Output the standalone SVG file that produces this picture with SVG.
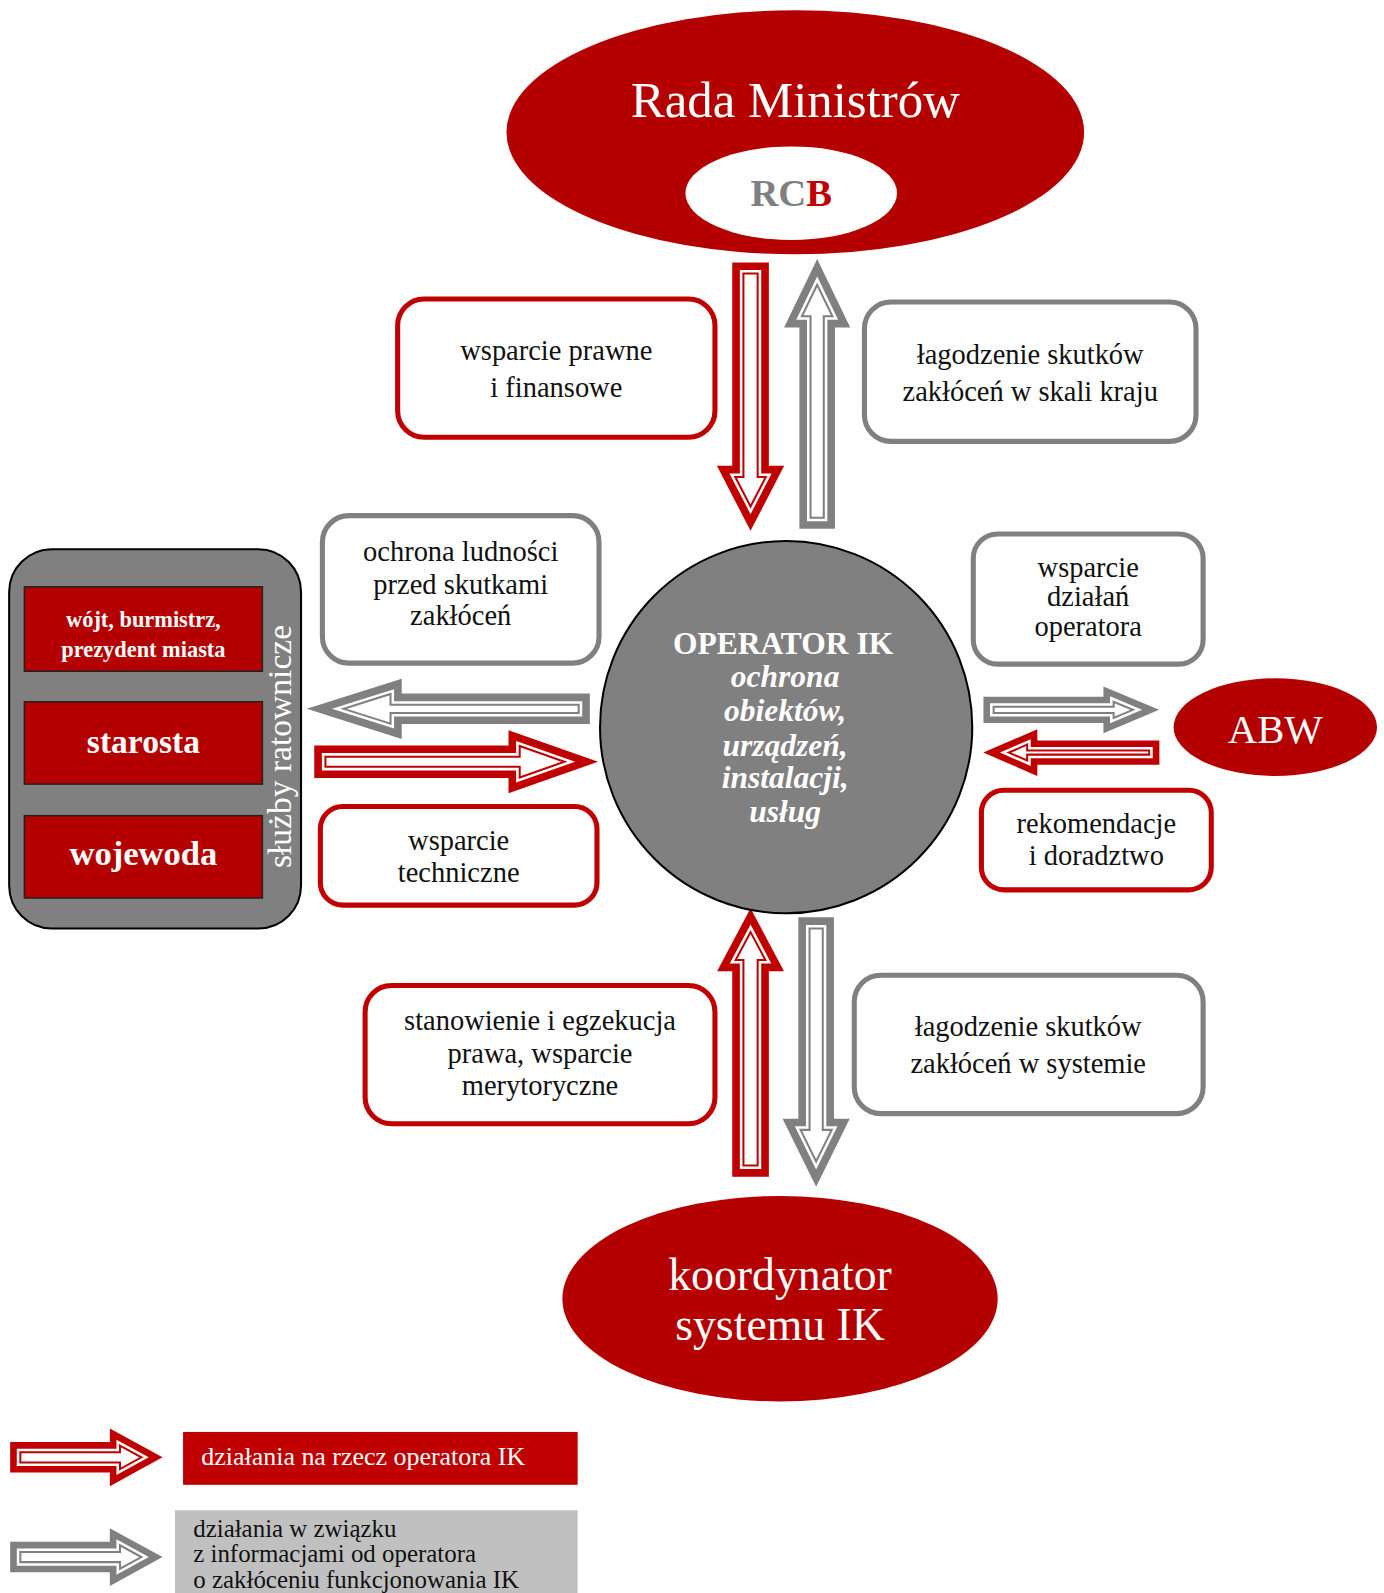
<svg xmlns="http://www.w3.org/2000/svg" xmlns:xlink="http://www.w3.org/1999/xlink" width="1384" height="1593" viewBox="0 0 1384 1593">
<style>
text{font-family:"Liberation Serif","DejaVu Serif",serif}
.ell{fill:#b50000}
.boxr{fill:#fff;stroke:#c00000;stroke-width:5}
.boxg{fill:#fff;stroke:#808080;stroke-width:5}
.bt{font-size:28px;fill:#111;text-anchor:middle}
.wt{fill:#fff;text-anchor:middle}
.lbox{fill:#b50000;stroke:#222;stroke-width:1.5}
.o11r{fill:none;stroke:#c00000;stroke-width:22;stroke-miterlimit:10}
.o11g{fill:none;stroke:#808080;stroke-width:22;stroke-miterlimit:10}
.o10r{fill:none;stroke:#c00000;stroke-width:20;stroke-miterlimit:10}
.o10g{fill:none;stroke:#808080;stroke-width:20;stroke-miterlimit:10}
.gap{fill:none;stroke:#fff;stroke-width:7;stroke-miterlimit:10}
.inr{fill:#fff;stroke:#c00000;stroke-width:2}
.ing{fill:#fff;stroke:#808080;stroke-width:2}
</style>
<defs>
<path id="a1" d="M731,269 L745,269 L745,469 L753,469 L738,498 L723,469 L731,469 Z"/>
<path id="a2" d="M797,509 L810,509 L810,311 L818.5,311 L803.5,280 L788.5,311 L797,311 Z"/>
<path id="a3" d="M569,693 L384,693 L384,682.4 L338,697 L384,711.6 L384,701 L569,701 Z"/>
<path id="a4" d="M320,744 L511,744 L511,733.5 L555,749 L511,764.5 L511,754 L320,754 Z"/>
<path id="a5" d="M977,695 L1095,695 L1095,690 L1114,698 L1095,706 L1095,701 L977,701 Z"/>
<path id="a6" d="M1130,738 L1010,738 L1010,732.2 L992,740 L1010,747.8 L1010,742 L1130,742 Z"/>
<path id="a7" d="M731,1146 L745,1146 L745,944 L752.6,944 L738,916.5 L723.4,944 L731,944 Z"/>
<path id="a8" d="M796,913 L809,913 L809,1111 L817.8,1111 L802.5,1142 L787.2,1111 L796,1111 Z"/>
<path id="a9" d="M20,1428 L118,1428 L118,1421.5 L139,1433 L118,1444.5 L118,1438 L20,1438 Z"/>
<path id="a10" d="M20,1526 L118,1526 L118,1519.5 L139,1531 L118,1542.5 L118,1536 L20,1536 Z"/>
</defs>
<rect width="1384" height="1593" fill="#fff"/>
<g id="diagram" transform="scale(1.017)">

<g id="rada-ministrow">
<ellipse class="ell" cx="782" cy="130" rx="284" ry="120"/>
<text class="wt" x="782" y="115" font-size="50">Rada Ministrów</text>
</g>
<g id="rcb">
<ellipse cx="778" cy="190" rx="104" ry="46" fill="#fff"/>
<text x="778" y="203" font-size="38" font-weight="bold" text-anchor="middle" fill="#808080">RC<tspan fill="#c00000">B</tspan></text>
</g>

<g id="connectors">
<use xlink:href="#a1" class="o11r"/><use xlink:href="#a1" class="gap"/><use xlink:href="#a1" class="inr"/>
<use xlink:href="#a2" class="o11g"/><use xlink:href="#a2" class="gap"/><use xlink:href="#a2" class="ing"/>
<use xlink:href="#a3" class="o11g"/><use xlink:href="#a3" class="gap"/><use xlink:href="#a3" class="ing"/>
<use xlink:href="#a4" class="o11r"/><use xlink:href="#a4" class="gap"/><use xlink:href="#a4" class="inr"/>
<use xlink:href="#a5" class="o10g"/><use xlink:href="#a5" class="gap"/><use xlink:href="#a5" class="ing"/>
<use xlink:href="#a6" class="o10r"/><use xlink:href="#a6" class="gap"/><use xlink:href="#a6" class="inr"/>
<use xlink:href="#a7" class="o11r"/><use xlink:href="#a7" class="gap"/><use xlink:href="#a7" class="inr"/>
<use xlink:href="#a8" class="o11g"/><use xlink:href="#a8" class="gap"/><use xlink:href="#a8" class="ing"/>
</g>

<g id="box-wsparcie-prawne">
<rect class="boxr" x="391" y="294" width="312" height="136" rx="26"/>
<text class="bt" x="547" y="354">wsparcie prawne</text>
<text class="bt" x="547" y="390">i finansowe</text>
</g>
<g id="box-lagodzenie-kraj">
<rect class="boxg" x="850" y="297" width="326" height="137" rx="26"/>
<text class="bt" x="1013" y="358">łagodzenie skutków</text>
<text class="bt" x="1013" y="394">zakłóceń w skali kraju</text>
</g>
<g id="box-ochrona-ludnosci">
<rect class="boxg" x="317" y="507" width="272" height="145" rx="26"/>
<text class="bt" x="453" y="552">ochrona ludności</text>
<text class="bt" x="453" y="584">przed skutkami</text>
<text class="bt" x="453" y="615">zakłóceń</text>
</g>
<g id="box-wsparcie-dzialan">
<rect class="boxg" x="957" y="525" width="226" height="128" rx="24"/>
<text class="bt" x="1070" y="567">wsparcie</text>
<text class="bt" x="1070" y="596">działań</text>
<text class="bt" x="1070" y="625">operatora</text>
</g>
<g id="box-wsparcie-techniczne">
<rect class="boxr" x="315" y="793" width="272" height="97" rx="22"/>
<text class="bt" x="451" y="836">wsparcie</text>
<text class="bt" x="451" y="867">techniczne</text>
</g>
<g id="box-rekomendacje">
<rect class="boxr" x="965" y="777" width="226" height="98" rx="22"/>
<text class="bt" x="1078" y="819">rekomendacje</text>
<text class="bt" x="1078" y="851">i doradztwo</text>
</g>
<g id="box-stanowienie">
<rect class="boxr" x="359" y="969" width="344" height="136" rx="26"/>
<text class="bt" x="531" y="1013">stanowienie i egzekucja</text>
<text class="bt" x="531" y="1045">prawa, wsparcie</text>
<text class="bt" x="531" y="1077">merytoryczne</text>
</g>
<g id="box-lagodzenie-system">
<rect class="boxg" x="840" y="959" width="343" height="136" rx="26"/>
<text class="bt" x="1011" y="1019">łagodzenie skutków</text>
<text class="bt" x="1011" y="1055">zakłóceń w systemie</text>
</g>

<g id="operator-ik">
<circle cx="773" cy="715" r="183" fill="#808080" stroke="#000" stroke-width="2"/>
<text class="wt" x="770" y="643" font-size="31" font-weight="bold">OPERATOR IK</text>
<g font-size="31" font-weight="bold" font-style="italic">
<text class="wt" x="772" y="676">ochrona</text>
<text class="wt" x="772" y="709">obiektów,</text>
<text class="wt" x="772" y="743">urządzeń,</text>
<text class="wt" x="772" y="775">instalacji,</text>
<text class="wt" x="772" y="808">usług</text>
</g>
</g>

<g id="sluzby-ratownicze">
<rect x="9" y="540" width="287" height="373" rx="42" fill="#808080" stroke="#000" stroke-width="2"/>
<text class="wt" transform="translate(286,734) rotate(-90)" x="0" y="0" font-size="33" fill="#eee">służby ratownicze</text>
</g>
<g id="wojt">
<rect class="lbox" x="24" y="577" width="234" height="83"/>
<text class="wt" x="141" y="617" font-size="22" font-weight="bold">wójt, burmistrz,</text>
<text class="wt" x="141" y="646" font-size="22" font-weight="bold">prezydent miasta</text>
</g>
<g id="starosta">
<rect class="lbox" x="24" y="690" width="234" height="81"/>
<text class="wt" x="141" y="740" font-size="33" font-weight="bold">starosta</text>
</g>
<g id="wojewoda">
<rect class="lbox" x="24" y="802" width="234" height="81"/>
<text class="wt" x="141" y="851" font-size="34" font-weight="bold">wojewoda</text>
</g>

<g id="abw">
<ellipse class="ell" cx="1254" cy="715" rx="100" ry="48"/>
<text class="wt" x="1254" y="731" font-size="40">ABW</text>
</g>

<g id="koordynator">
<ellipse class="ell" cx="767" cy="1277" rx="214" ry="101"/>
<text class="wt" x="767" y="1268" font-size="45">koordynator</text>
<text class="wt" x="767" y="1318" font-size="45">systemu IK</text>
</g>

<g id="legend">
<use xlink:href="#a9" class="o10r"/><use xlink:href="#a9" class="gap"/><use xlink:href="#a9" class="inr"/>
<use xlink:href="#a10" class="o10g"/><use xlink:href="#a10" class="gap"/><use xlink:href="#a10" class="ing"/>
<rect x="180" y="1408" width="388" height="52" fill="#c00000"/>
<text x="198" y="1441" font-size="25.5" fill="#fff">działania na rzecz operatora IK</text>
<rect x="172" y="1485" width="396" height="108" fill="#c0c0c0"/>
<text x="190" y="1511" font-size="24.5" fill="#111">działania w związku</text>
<text x="190" y="1536" font-size="24.5" fill="#111">z informacjami od operatora</text>
<text x="190" y="1561" font-size="24.5" fill="#111">o zakłóceniu funkcjonowania IK</text>
</g>
</g>
</svg>
